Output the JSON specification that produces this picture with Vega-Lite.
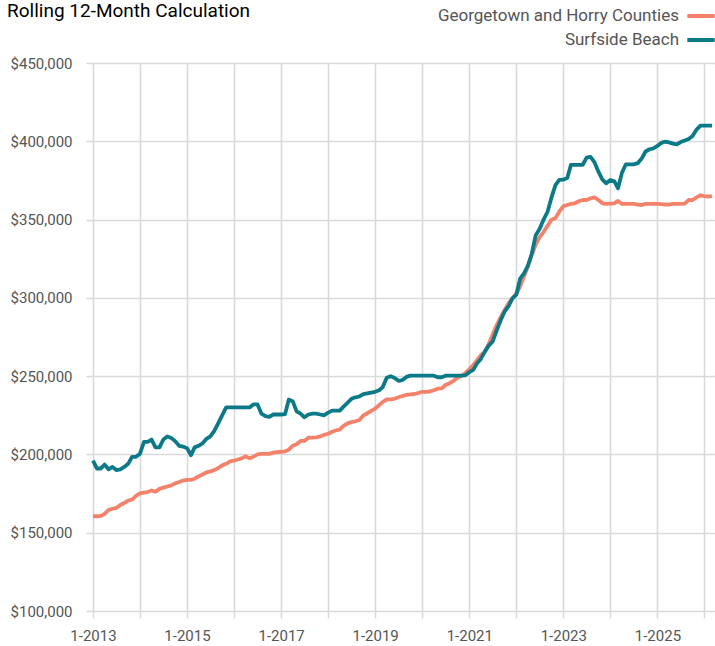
{
  "$schema": "https://vega.github.io/schema/vega-lite/v6.json",
  "autosize": {"type": "none"},
  "width": 623,
  "height": 548,
  "padding": {"left": 93, "top": 63, "right": 0, "bottom": 35},
  "title": {
    "text": "Rolling 12-Month Calculation",
    "anchor": "start",
    "frame": "group",
    "orient": "top",
    "baseline": "alphabetic",
    "font": "Roboto",
    "fontSize": 19,
    "fontWeight": "normal",
    "color": "#000000",
    "offset": 0,
    "dx": -86,
    "dy": 36
  },
  "config": {
    "view": {"stroke": null},
    "font": "Roboto",
    "axis": {
      "labelFont": "Roboto",
      "labelFontSize": 15,
      "labelColor": "#555555",
      "gridColor": "#d9d9d9",
      "gridWidth": 1.6,
      "tickColor": "#d9d9d9",
      "tickWidth": 1.6,
      "tickSize": 7,
      "domain": false,
      "title": null
    },
    "legend": {
      "orient": "none",
      "legendX": 592,
      "legendY": -63,
      "symbolType": "stroke",
      "symbolStrokeWidth": 4,
      "symbolSize": 750,
      "labelAlign": "right",
      "labelOffset": -38,
      "labelLimit": 400,
      "labelFont": "Roboto",
      "labelFontSize": 17,
      "labelColor": "#555555",
      "rowPadding": 0,
      "title": null
    }
  },
  "data": {
    "values": [
      {"month":"2013-01-01","G":160500,"S":196000},{"month":"2013-02-01","G":160500,"S":191000},{"month":"2013-03-01","G":160700,"S":191000},{"month":"2013-04-01","G":162000,"S":193500},{"month":"2013-05-01","G":164500,"S":190500},{"month":"2013-06-01","G":165300,"S":192000},{"month":"2013-07-01","G":165800,"S":190000},{"month":"2013-08-01","G":167700,"S":190500},{"month":"2013-09-01","G":169000,"S":192000},{"month":"2013-10-01","G":170500,"S":194000},{"month":"2013-11-01","G":171200,"S":198500},{"month":"2013-12-01","G":173500,"S":198500},
      {"month":"2014-01-01","G":175200,"S":200500},{"month":"2014-02-01","G":175600,"S":208000},{"month":"2014-03-01","G":176000,"S":208000},{"month":"2014-04-01","G":177000,"S":209500},{"month":"2014-05-01","G":176200,"S":204500},{"month":"2014-06-01","G":178000,"S":204500},{"month":"2014-07-01","G":178800,"S":209500},{"month":"2014-08-01","G":179500,"S":211500},{"month":"2014-09-01","G":180200,"S":210500},{"month":"2014-10-01","G":181500,"S":208500},{"month":"2014-11-01","G":182400,"S":205500},{"month":"2014-12-01","G":183300,"S":205000},
      {"month":"2015-01-01","G":183700,"S":204000},{"month":"2015-02-01","G":183700,"S":199500},{"month":"2015-03-01","G":184500,"S":204500},{"month":"2015-04-01","G":186000,"S":205500},{"month":"2015-05-01","G":187200,"S":207000},{"month":"2015-06-01","G":188500,"S":210000},{"month":"2015-07-01","G":189200,"S":211500},{"month":"2015-08-01","G":190000,"S":215000},{"month":"2015-09-01","G":191300,"S":220000},{"month":"2015-10-01","G":193000,"S":225000},{"month":"2015-11-01","G":194000,"S":230000},{"month":"2015-12-01","G":195500,"S":230000},
      {"month":"2016-01-01","G":196000,"S":230000},{"month":"2016-02-01","G":196800,"S":230000},{"month":"2016-03-01","G":197500,"S":230000},{"month":"2016-04-01","G":198800,"S":230000},{"month":"2016-05-01","G":197500,"S":230000},{"month":"2016-06-01","G":198600,"S":232000},{"month":"2016-07-01","G":200000,"S":232000},{"month":"2016-08-01","G":200300,"S":226000},{"month":"2016-09-01","G":200300,"S":224500},{"month":"2016-10-01","G":200400,"S":224000},{"month":"2016-11-01","G":201100,"S":225500},{"month":"2016-12-01","G":201500,"S":225500},
      {"month":"2017-01-01","G":201700,"S":225500},{"month":"2017-02-01","G":202000,"S":225800},{"month":"2017-03-01","G":203000,"S":235000},{"month":"2017-04-01","G":205500,"S":234000},{"month":"2017-05-01","G":206500,"S":227500},{"month":"2017-06-01","G":208600,"S":226000},{"month":"2017-07-01","G":208600,"S":223700},{"month":"2017-08-01","G":210700,"S":225500},{"month":"2017-09-01","G":210700,"S":226000},{"month":"2017-10-01","G":210900,"S":226000},{"month":"2017-11-01","G":211500,"S":225500},{"month":"2017-12-01","G":212500,"S":225000},
      {"month":"2018-01-01","G":213200,"S":226700},{"month":"2018-02-01","G":214500,"S":228000},{"month":"2018-03-01","G":215300,"S":228000},{"month":"2018-04-01","G":215800,"S":228000},{"month":"2018-05-01","G":218300,"S":230500},{"month":"2018-06-01","G":219800,"S":233000},{"month":"2018-07-01","G":220600,"S":235500},{"month":"2018-08-01","G":221200,"S":236500},{"month":"2018-09-01","G":222000,"S":237000},{"month":"2018-10-01","G":224800,"S":238500},{"month":"2018-11-01","G":226300,"S":239000},{"month":"2018-12-01","G":227800,"S":239500},
      {"month":"2019-01-01","G":229300,"S":240000},{"month":"2019-02-01","G":231500,"S":241000},{"month":"2019-03-01","G":233500,"S":243000},{"month":"2019-04-01","G":235200,"S":249000},{"month":"2019-05-01","G":235200,"S":250000},{"month":"2019-06-01","G":235500,"S":248800},{"month":"2019-07-01","G":236500,"S":247000},{"month":"2019-08-01","G":237300,"S":247500},{"month":"2019-09-01","G":238000,"S":249500},{"month":"2019-10-01","G":238300,"S":250300},{"month":"2019-11-01","G":238600,"S":250300},{"month":"2019-12-01","G":239200,"S":250300},
      {"month":"2020-01-01","G":240000,"S":250300},{"month":"2020-02-01","G":240000,"S":250300},{"month":"2020-03-01","G":240200,"S":250300},{"month":"2020-04-01","G":241000,"S":250300},{"month":"2020-05-01","G":242000,"S":249300},{"month":"2020-06-01","G":242200,"S":249300},{"month":"2020-07-01","G":244300,"S":250300},{"month":"2020-08-01","G":245500,"S":250300},{"month":"2020-09-01","G":247000,"S":250300},{"month":"2020-10-01","G":249000,"S":250300},{"month":"2020-11-01","G":250200,"S":250300},{"month":"2020-12-01","G":252000,"S":250500},
      {"month":"2021-01-01","G":254400,"S":252500},{"month":"2021-02-01","G":257000,"S":254000},{"month":"2021-03-01","G":260000,"S":258000},{"month":"2021-04-01","G":263500,"S":261000},{"month":"2021-05-01","G":265500,"S":265500},{"month":"2021-06-01","G":270500,"S":269500},{"month":"2021-07-01","G":276500,"S":272000},{"month":"2021-08-01","G":282500,"S":279000},{"month":"2021-09-01","G":287500,"S":285500},{"month":"2021-10-01","G":292000,"S":291000},{"month":"2021-11-01","G":296500,"S":294500},{"month":"2021-12-01","G":299700,"S":299500},
      {"month":"2022-01-01","G":302500,"S":302000},{"month":"2022-02-01","G":307500,"S":312500},{"month":"2022-03-01","G":313500,"S":315500},{"month":"2022-04-01","G":320000,"S":320500},{"month":"2022-05-01","G":327400,"S":328000},{"month":"2022-06-01","G":334000,"S":340000},{"month":"2022-07-01","G":338800,"S":344000},{"month":"2022-08-01","G":342000,"S":350000},{"month":"2022-09-01","G":346000,"S":355000},{"month":"2022-10-01","G":349800,"S":364000},{"month":"2022-11-01","G":351000,"S":372000},{"month":"2022-12-01","G":355000,"S":375300},
      {"month":"2023-01-01","G":358500,"S":375500},{"month":"2023-02-01","G":359300,"S":376500},{"month":"2023-03-01","G":360000,"S":384900},{"month":"2023-04-01","G":360400,"S":384900},{"month":"2023-05-01","G":361700,"S":384900},{"month":"2023-06-01","G":362500,"S":385000},{"month":"2023-07-01","G":362500,"S":389500},{"month":"2023-08-01","G":363600,"S":390000},{"month":"2023-09-01","G":364200,"S":386500},{"month":"2023-10-01","G":362500,"S":380600},{"month":"2023-11-01","G":360400,"S":375500},{"month":"2023-12-01","G":360000,"S":373200},
      {"month":"2024-01-01","G":360200,"S":375300},{"month":"2024-02-01","G":360300,"S":374500},{"month":"2024-03-01","G":361900,"S":370000},{"month":"2024-04-01","G":360000,"S":380000},{"month":"2024-05-01","G":360000,"S":385300},{"month":"2024-06-01","G":360000,"S":385300},{"month":"2024-07-01","G":360000,"S":385300},{"month":"2024-08-01","G":359500,"S":386000},{"month":"2024-09-01","G":359300,"S":389000},{"month":"2024-10-01","G":360000,"S":393500},{"month":"2024-11-01","G":360000,"S":394900},{"month":"2024-12-01","G":360000,"S":395500},
      {"month":"2025-01-01","G":360000,"S":397000},{"month":"2025-02-01","G":359800,"S":399000},{"month":"2025-03-01","G":359500,"S":399800},{"month":"2025-04-01","G":359600,"S":399300},{"month":"2025-05-01","G":360000,"S":398500},{"month":"2025-06-01","G":360000,"S":398000},{"month":"2025-07-01","G":360000,"S":399500},{"month":"2025-08-01","G":360200,"S":400500},{"month":"2025-09-01","G":362500,"S":401500},{"month":"2025-10-01","G":362500,"S":403400},{"month":"2025-11-01","G":364200,"S":407500},{"month":"2025-12-01","G":365500,"S":410000},
      {"month":"2026-01-01","G":365000,"S":410000},{"month":"2026-02-01","G":364600,"S":410000},{"month":"2026-03-01","G":365000,"S":410000}
    ]
  },
  "transform": [
    {"fold": ["G", "S"], "as": ["key", "value"]},
    {"lookup": "key", "from": {"data": {"values": [{"key": "G", "series": "Georgetown and Horry Counties"}, {"key": "S", "series": "Surfside Beach"}]}, "key": "key", "fields": ["series"]}}
  ],
  "mark": {"type": "line", "strokeWidth": 3.8, "interpolate": "linear", "strokeJoin": "round"},
  "encoding": {
    "x": {
      "field": "month",
      "type": "temporal",
      "scale": {"type": "utc", "domain": [{"year": 2013, "month": 1, "date": 1, "utc": true}, {"year": 2026, "month": 4, "date": 1, "utc": true}]},
      "axis": {
        "values": [
          {"year": 2013, "month": 1, "date": 1, "utc": true},{"year": 2014, "month": 1, "date": 1, "utc": true},{"year": 2015, "month": 1, "date": 1, "utc": true},{"year": 2016, "month": 1, "date": 1, "utc": true},{"year": 2017, "month": 1, "date": 1, "utc": true},{"year": 2018, "month": 1, "date": 1, "utc": true},{"year": 2019, "month": 1, "date": 1, "utc": true},{"year": 2020, "month": 1, "date": 1, "utc": true},{"year": 2021, "month": 1, "date": 1, "utc": true},{"year": 2022, "month": 1, "date": 1, "utc": true},{"year": 2023, "month": 1, "date": 1, "utc": true},{"year": 2024, "month": 1, "date": 1, "utc": true},{"year": 2025, "month": 1, "date": 1, "utc": true},{"year": 2026, "month": 1, "date": 1, "utc": true}
        ],
        "labelExpr": "utcyear(datum.value) % 2 == 1 ? '1-' + utcyear(datum.value) : ''",
        "labelPadding": 10,
        "labelFlush": false,
        "labelOverlap": false,
        "grid": true
      }
    },
    "y": {
      "field": "value",
      "type": "quantitative",
      "scale": {"domain": [100000, 450000], "nice": false, "zero": false},
      "axis": {
        "values": [100000, 150000, 200000, 250000, 300000, 350000, 400000, 450000],
        "format": "$,.0f",
        "labelPadding": 14,
        "grid": true
      }
    },
    "color": {
      "field": "series",
      "type": "nominal",
      "scale": {"domain": ["Georgetown and Horry Counties", "Surfside Beach"], "range": ["#F4826B", "#0B7A88"]},
      "legend": {}
    }
  }
}
